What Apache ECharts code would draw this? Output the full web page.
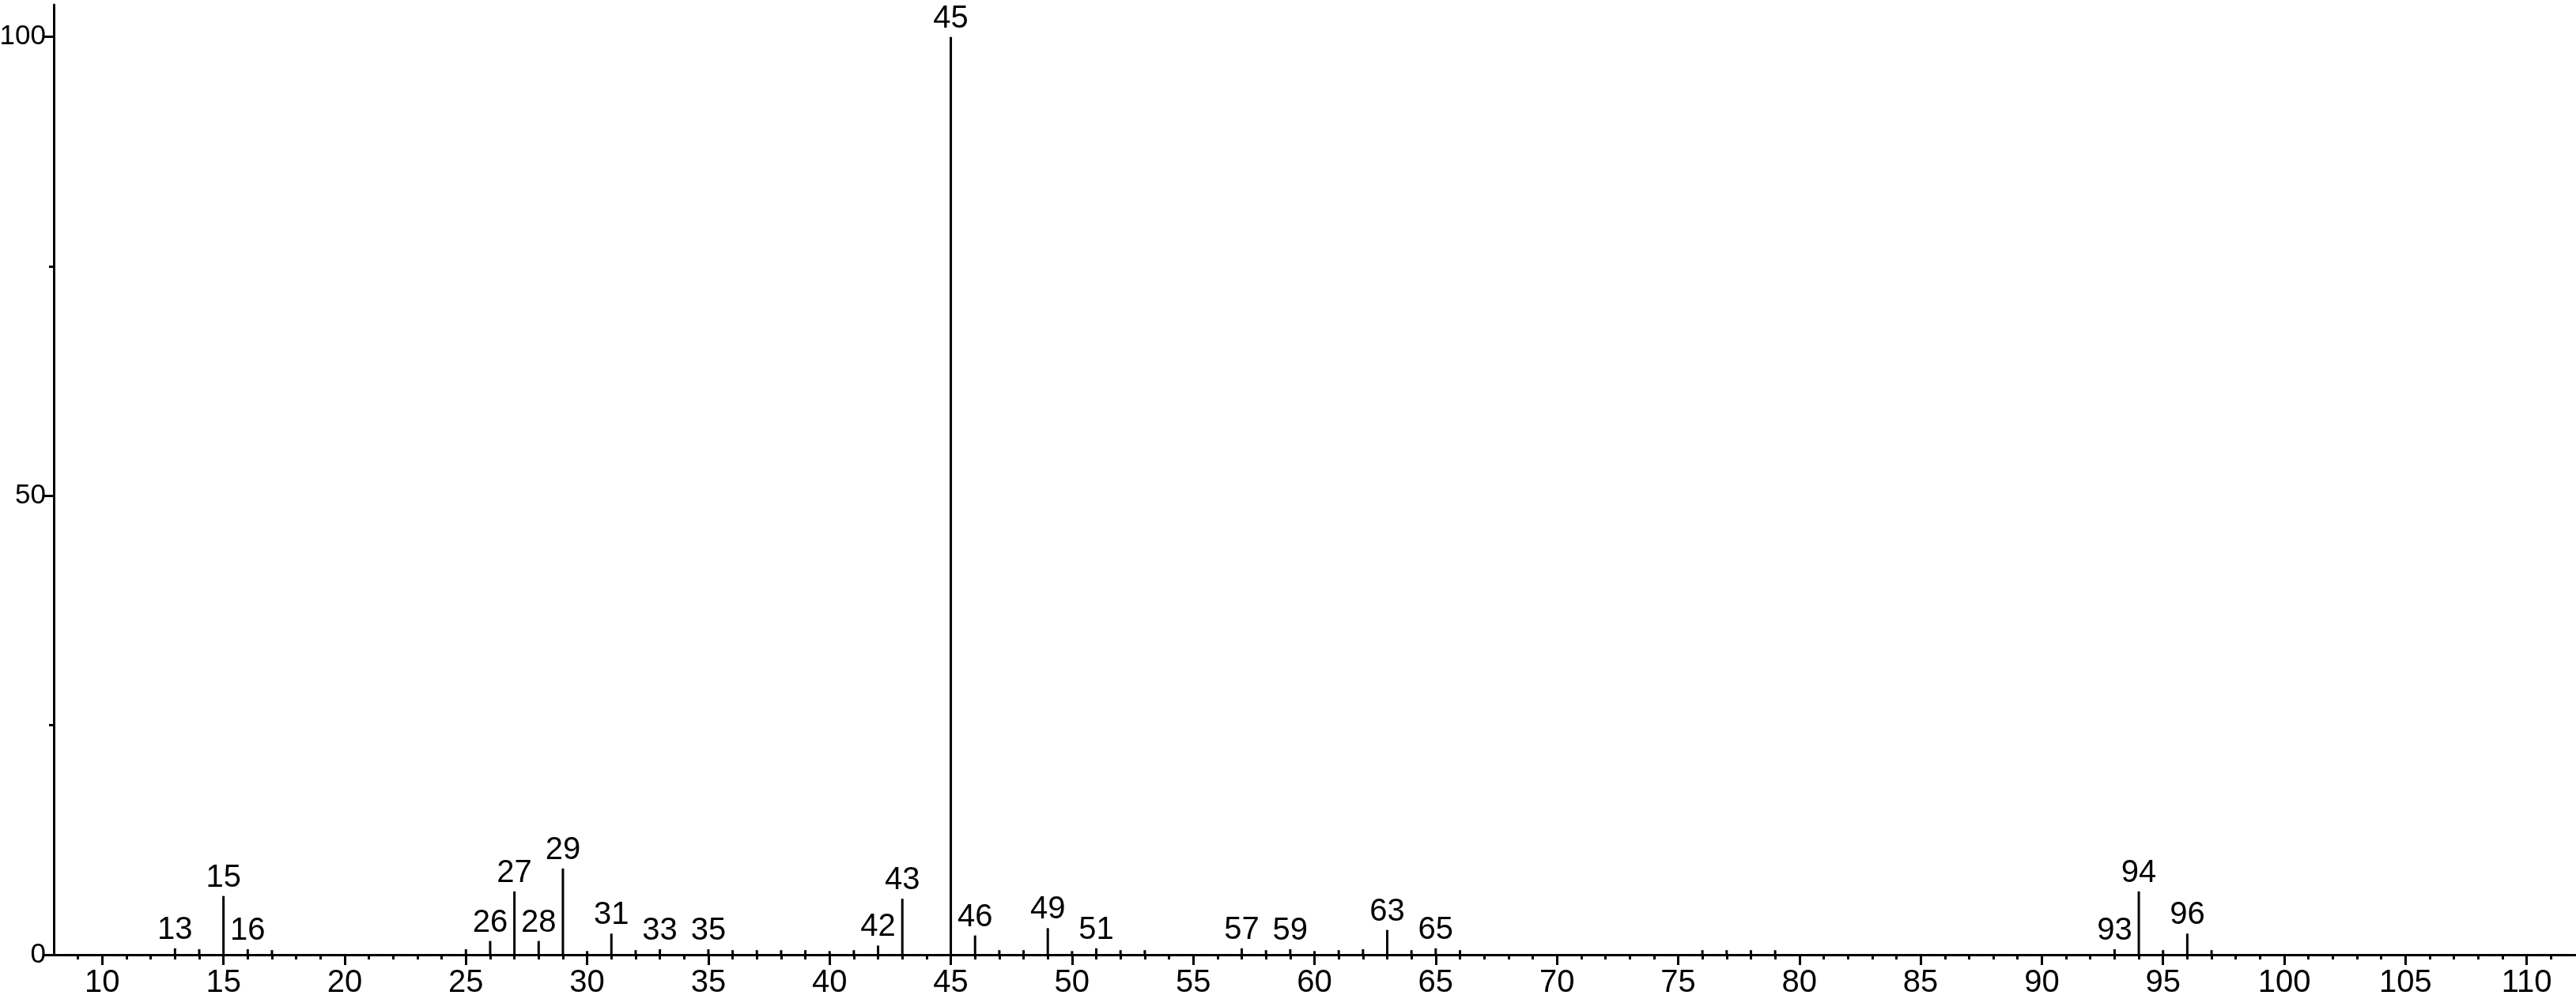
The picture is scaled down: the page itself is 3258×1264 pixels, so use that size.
<!DOCTYPE html>
<html>
<head>
<meta charset="utf-8">
<script src="https://cdn.jsdelivr.net/npm/echarts@6/dist/echarts.min.js"></script>
<style>
  html, body { margin: 0; padding: 0; background: #fff; }
  #chart { width: 3258px; height: 1264px; }
</style>
</head>
<body>
<div id="chart"></div>
<script>
// m/z of each peak and its relative intensity (%)
var masses = [13, 14, 15, 16, 17, 25, 26, 27, 28, 29, 30, 31, 32, 33, 35, 36, 37, 38, 39, 40,
  41, 42, 43, 45, 46, 47, 48, 49, 50, 51, 52, 53, 57, 58, 59, 60, 61, 62, 63, 64,
  65, 66, 76, 77, 78, 79, 93, 94, 95, 96, 97];
var intensities = [0.7, 0.6, 6.4, 0.6, 0.5, 0.6, 1.5, 6.9, 1.5, 9.4, 0.4, 2.3, 0.5, 0.6, 0.6, 0.5, 0.5, 0.5, 0.5, 0.4,
  0.5, 1.0, 6.1, 100, 2.1, 0.5, 0.5, 2.9, 0.4, 0.7, 0.5, 0.5, 0.7, 0.5, 0.6, 0.4, 0.5, 0.6, 2.7, 0.5,
  0.7, 0.5, 0.5, 0.5, 0.5, 0.5, 0.6, 6.9, 0.5, 2.3, 0.5];
// peaks that carry an m/z label
var labeled = [13, 15, 16, 26, 27, 28, 29, 31, 33, 35, 42, 43, 45, 46, 49, 51, 57, 59, 63, 65, 93, 94, 96];
var xLabels = [10, 15, 20, 25, 30, 35, 40, 45, 50, 55, 60, 65, 70, 75, 80, 85, 90, 95, 100, 105, 110];
var yLabels = [0, 50, 100];
var yMinor = [25, 75];

var minorX = [];
for (var v = 9; v <= 111; v++) {
  if (v % 5 !== 0) minorX.push(v);
}

var font = '"Liberation Sans", Arial, sans-serif';

var data = masses.map(function (m, i) {
  return {
    value: [m, intensities[i]],
    label: { show: labeled.indexOf(m) >= 0 }
  };
});

var chart = echarts.init(document.getElementById('chart'));
chart.setOption({
  animation: false,
  backgroundColor: '#fff',
  grid: { left: 68, right: 1, top: 6, bottom: 56, outerBoundsMode: 'none', containLabel: false },
  xAxis: [{
    type: 'value',
    min: 8,
    max: 112,
    splitLine: { show: false },
    axisLine: { show: true, onZero: false, lineStyle: { color: '#000', width: 3 } },
    axisTick: { show: true, customValues: xLabels, length: 13, lineStyle: { color: '#000', width: 3 } },
    axisLabel: { customValues: xLabels, color: '#000', fontSize: 40, fontFamily: font, margin: 16 }
  }, {
    type: 'value',
    min: 8,
    max: 112,
    position: 'bottom',
    splitLine: { show: false },
    axisLine: { show: false },
    axisTick: { show: true, customValues: minorX, length: 6, lineStyle: { color: '#000', width: 3 } },
    axisLabel: { show: false }
  }],
  yAxis: [{
    type: 'value',
    min: 0,
    max: 103.5,
    splitLine: { show: false },
    axisLine: { show: true, lineStyle: { color: '#000', width: 3 } },
    axisTick: { show: true, customValues: yLabels, length: 13, lineStyle: { color: '#000', width: 3 } },
    axisLabel: { customValues: yLabels, color: '#000', fontSize: 35, fontFamily: font, margin: 10 }
  }, {
    type: 'value',
    min: 0,
    max: 103.5,
    position: 'left',
    splitLine: { show: false },
    axisLine: { show: false },
    axisTick: { show: true, customValues: yMinor, length: 6, lineStyle: { color: '#000', width: 3 } },
    axisLabel: { show: false }
  }],
  series: [{
    type: 'bar',
    xAxisIndex: 0,
    yAxisIndex: 0,
    barWidth: 3,
    itemStyle: { color: '#000' },
    label: {
      show: false,
      position: 'top',
      distance: 3,
      color: '#000',
      fontSize: 40,
      fontFamily: font,
      formatter: function (p) { return p.value[0]; }
    },
    data: data
  }]
});
</script>
</body>
</html>
